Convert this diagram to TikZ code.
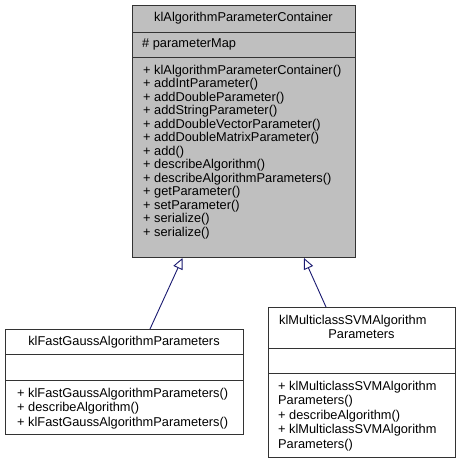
\documentclass[tikz,border=0pt]{standalone}
\usepackage{fontspec}
\setmainfont{Liberation Sans}
\usetikzlibrary{arrows.meta}
\definecolor{boxgray}{RGB}{191,191,191}
\definecolor{edgeblue}{RGB}{25,25,112}
\begin{document}
\begin{tikzpicture}[x=1pt,y=-1pt,
  classbox/.style={draw=black!80, line width=1pt},
  sep/.style={draw=black!80, line width=1pt},
  txt/.style={inner sep=0pt, font=\fontsize{12.8}{13.5}\selectfont},
  inh/.style={draw=edgeblue, line width=0.9pt, -{Triangle[open, length=11pt, width=10pt, fill=white]}}]
\useasboundingbox (0,0) rectangle (461,463);
% top class
\path[classbox, fill=boxgray] (132,5) rectangle (355,257.5);
\coordinate (topA) at (182.5,258);
\coordinate (topB) at (304,258);
\draw[sep] (132,32) -- (355,32);
\draw[sep] (132,57) -- (355,57);
\node[txt, anchor=base] (ttitle) at (243.5,21.5) {klAlgorithmParameterContainer};
\node[txt, anchor=base west] (tattr) at (142,47.5) {\# parameterMap};
\foreach [count=\i] \t in {+ klAlgorithmParameterContainer(), + addIntParameter(), + addDoubleParameter(), + addStringParameter(), + addDoubleVectorParameter(), + addDoubleMatrixParameter(), + add(), + describeAlgorithm(), + describeAlgorithmParameters(), + getParameter(), + setParameter(), + serialize(), + serialize()}
  \node[txt, anchor=base west] (tm\i) at (143,{74.5+13.46*(\i-1)}) {\t};
% left class
\path[classbox, fill=white] (5,329) rectangle (243,434);
\coordinate (leftA) at (150,329);
\draw[sep] (5,354) -- (243,354);
\draw[sep] (5,380) -- (243,380);
\node[txt, anchor=base] (ltitle) at (124,345.5) {klFastGaussAlgorithmParameters};
\node[txt, anchor=base west] (lm1) at (17,397) {+ klFastGaussAlgorithmParameters()};
\node[txt, anchor=base west] (lm2) at (17,411.5) {+ describeAlgorithm()};
\node[txt, anchor=base west] (lm3) at (17,426) {+ klFastGaussAlgorithmParameters()};
% right class
\path[classbox, fill=white] (268,307) rectangle (455,457);
\coordinate (rightA) at (326,307);
\draw[sep] (268,348) -- (455,348);
\draw[sep] (268,373) -- (455,373);
\node[txt, anchor=base west] (rt1) at (279,324) {klMulticlassSVMAlgorithm};
\node[txt, anchor=base] (rt2) at (361.5,338) {Parameters};
\node[txt, anchor=base west] (rm1) at (278,390) {+ klMulticlassSVMAlgorithm};
\node[txt, anchor=base west] (rm2) at (278,404.5) {Parameters()};
\node[txt, anchor=base west] (rm3) at (278,419) {+ describeAlgorithm()};
\node[txt, anchor=base west] (rm4) at (278,433.5) {+ klMulticlassSVMAlgorithm};
\node[txt, anchor=base west] (rm5) at (278,448) {Parameters()};
% inheritance
\draw[inh] (leftA) -- (topA);
\draw[inh] (rightA) -- (topB);
\end{tikzpicture}
\end{document}
